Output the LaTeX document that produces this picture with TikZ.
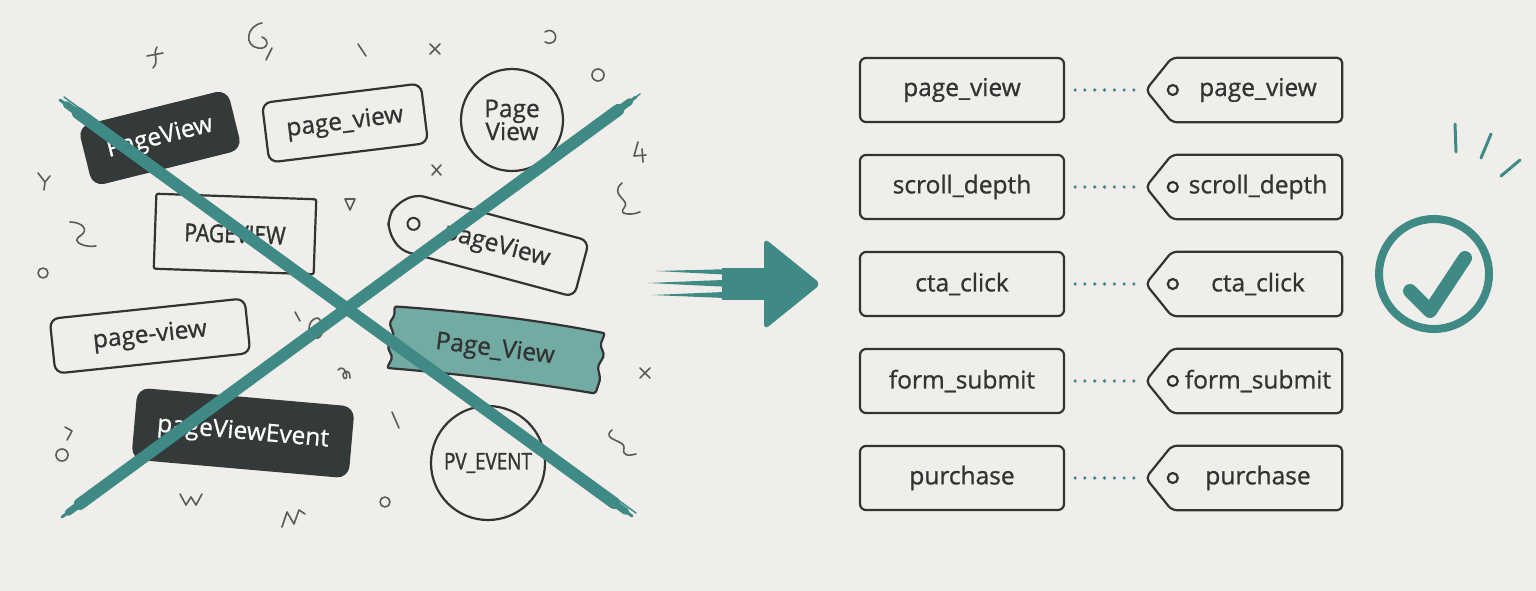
\documentclass[tikz,border=0pt]{standalone}
\usepackage{fontspec}
\setmainfont{Open Sans}[FakeBold=0.9]
\usepackage{graphicx}
\usetikzlibrary{calc}
\definecolor{bg}{HTML}{F0EEEA}
\definecolor{teal}{HTML}{3F8A84}
\definecolor{teallight}{HTML}{72AAA4}
\definecolor{dark}{HTML}{343939}
\definecolor{ink}{HTML}{333333}
\definecolor{scrib}{HTML}{5A5A5A}
\begin{document}
\begin{tikzpicture}[x=1pt,y=-1pt,
  txt/.style={font=\fontsize{24.5}{28}\selectfont},
  outbox/.style={txt, draw=ink, line width=2.2pt, rounded corners=9pt, fill=bg, text=ink, inner sep=0pt},
  darkbox/.style={txt, fill=dark, rounded corners=12pt, text=white, inner sep=0pt},
  circbox/.style={txt, circle, draw=ink, line width=2.2pt, text=ink, align=center, inner sep=0pt},
  rbox/.style={outbox, minimum width=204pt, minimum height=64pt, rounded corners=6pt},
  tagline/.style={draw=ink, line width=2.2pt, rounded corners=5pt, line join=round},
  lbl/.style={txt, text=ink, inner sep=0pt},
  dotline/.style={teal, line width=3.6pt, line cap=round, dash pattern=on 0pt off 9.8pt, shorten <=10pt, shorten >=7pt},
  scribble/.style={scrib, line width=1.6pt, line cap=round, line join=round},
  brush/.style={teal, line cap=round}
]
\fill[bg] (0,0) rectangle (1536,591);
\useasboundingbox (0,0) rectangle (1536,591);

% ---------- scribbles ----------
\draw[scribble] (147,56) -- (163,53) (157,47) .. controls (152,55) and (160,60) .. (153,68);
\draw[scribble] (262,23) .. controls (246,26) and (244,46) .. (258,48) .. controls (268,50) and (270,40) .. (262,37);
\draw[scribble] (272,48) -- (266,60);
\draw[scribble] (358,44) -- (366,56);
\draw[scribble] (430,44) -- (440,54) (440,44) -- (430,54);
\draw[scribble] (545,32) arc[start angle=130, end angle=-130, radius=6.5pt];
\draw[scribble] (598,75) circle[radius=6pt];
\draw[scribble] (432,165) -- (441,175) (441,165) -- (432,175);
\draw[scribble] (638,142) -- (634,156) -- (646,155) (642,149) -- (643,162);
\draw[scribble] (38,173) -- (45,182) -- (50,176) (45,182) -- (44,190);
\draw[scribble] (622,183) .. controls (608,195) and (632,200) .. (624,208) .. controls (618,214) and (630,216) .. (640,212);
\draw[scribble] (70,222) .. controls (82,222) and (90,230) .. (80,236) .. controls (70,242) and (86,248) .. (96,246);
\draw[scribble] (345,199) -- (355,199) -- (350,210) -- cycle;
\draw[scribble] (43,273) circle[radius=5pt];
\draw[scribble] (295,312) -- (300,321);
\draw[scribble] (318,318) .. controls (306,318) and (306,340) .. (318,338) .. controls (324,336) and (324,322) .. (318,318);
\draw[scribble] (640,368) -- (650,378) (650,368) -- (640,378);
\draw[scribble] (338,370) .. controls (345,362) and (350,382) .. (344,378) .. controls (340,372) and (350,366) .. (350,378);
\draw[scribble] (392,412) -- (399,428);
\draw[scribble] (612,430) .. controls (600,440) and (626,440) .. (624,448) .. controls (622,456) and (628,456) .. (636,454);
\draw[scribble] (62,455) circle[radius=6pt];
\draw[scribble] (65,427) -- (72,431) -- (67,440);
\draw[scribble] (180,494) -- (186,505) -- (191,497) -- (196,505) -- (202,494);
\draw[scribble] (282,527) -- (287,512) -- (294,524) -- (299,510) -- (305,514);
\draw[scribble] (385,502) circle[radius=5pt];

% ---------- messy variants ----------
\node[darkbox, rotate=14, minimum width=154pt, minimum height=62pt] (pv1) at (160,138) {PageView};
\node[outbox, rotate=7, minimum width=160pt, minimum height=60pt] (pv2) at (345,123) {page\_view};
\node[circbox, minimum size=102pt] (pv3) at (512,120) {Page\\[-5pt]View};
\node[outbox, rounded corners=2pt, rotate=-2, minimum width=160pt, minimum height=75pt] (pv4) at (235,234) {\scalebox{0.86}[1]{\addfontfeature{FakeBold=1.6}PAGEVIEW}};
\begin{scope}[shift={(485,243)}, rotate=-15]
  \draw[draw=ink, line width=2.2pt, rounded corners=9pt, fill=bg] (-80,-29) -- (100,-29) -- (100,29) -- (-80,29) -- (-96,14) -- (-100,0) -- (-96,-14) -- cycle;
  \draw[ink, line width=2pt] (-74,0) circle[radius=6pt];
  \node[lbl, transform shape] (pv5) at (12,0) {pageView};
\end{scope}
\node[outbox, rotate=6, minimum width=196pt, minimum height=55pt] (pv6) at (150,336) {page-view};
\begin{scope}[shift={(495,350)}, rotate=-7]
  \draw[draw=ink, line width=2.2pt, fill=teallight, rounded corners=2pt, line join=round]
    (-105,-31) .. controls (-30,-35) and (40,-35) .. (107,-30) -- (104,-18) -- (109,-8) -- (104,4) -- (108,16) -- (105,31)
    .. controls (40,28) and (-30,28) .. (-105,31) -- (-101,20) -- (-107,10) -- (-102,-2) -- (-108,-14) -- (-104,-22) -- cycle;
  \node[lbl, transform shape] (pv7) at (0,0) {Page\_View};
\end{scope}
\node[darkbox, rotate=-5, minimum width=218pt, minimum height=72pt] (pv8) at (243,433) {pageViewEvent};
\node[circbox, minimum size=114pt, font=\fontsize{23}{26}\selectfont] (pv9) at (488,463) {\scalebox{0.82}[1]{\addfontfeature{FakeBold=1.4}PV\_EVENT}};

% ---------- big X ----------
\foreach \ax/\ay/\bx/\by in {60/100/632/516, 636/97/62/517} {
  \draw[brush, line width=12pt, shorten <=22pt, shorten >=22pt] (\ax,\ay) -- (\bx,\by);
  \draw[brush, line width=7pt, shorten <=8pt, shorten >=8pt] (\ax,\ay) -- (\bx,\by);
  \draw[brush, line width=3pt] (\ax,\ay) -- (\bx,\by);
  \draw[brush, line width=1.5pt] ($(\ax,\ay)+(4,-3)$) -- ($(\bx,\by)+(4,-3)$);
}

% ---------- arrow ----------
\fill[teal] (722,268) rectangle (772,300);
\fill[teal] (656,271) -- (772,268) -- (772,277) -- cycle;
\fill[teal] (648,283) -- (772,278) -- (772,289) -- cycle;
\fill[teal] (652,295) -- (772,290) -- (772,300) -- cycle;
\fill[teal, rounded corners=6pt] (764,238) -- (821,284) -- (764,330) -- cycle;

% ---------- clean mapping ----------
\foreach \y/\t [count=\i] in {90/page\_view, 187/scroll\_depth, 284/cta\_click, 381/form\_submit, 478/purchase} {
  \node[rbox] (b\i) at (962,\y) {\t};
  \node[minimum width=196pt, minimum height=64pt, inner sep=0pt] (t\i) at (1244,\y) {};
  \draw[tagline] ($(t\i.north west)+(26,0)$) -- (t\i.north east) -- (t\i.south east) -- ($(t\i.south west)+(26,0)$) -- (t\i.west) -- cycle;
  \draw[ink, line width=2.2pt] ($(t\i.west)+(27,0)$) circle[radius=5pt];
  \node[lbl] (l\i) at ($(t\i.center)+(14,0)$) {\t};
  \draw[dotline] (b\i.east) -- (t\i.west);
}

% ---------- check ----------
\node[circle, draw=teal, line width=8pt, minimum size=110pt, inner sep=0pt] (ok) at (1434,274) {};
\coordinate (c1) at (1410,291);
\coordinate (c2) at (1430,311);
\coordinate (c3) at (1465,258);
\draw[teal, line width=14pt, line cap=round, line join=round] (c1) -- (c2) -- (c3);
\draw[teal, line width=3pt, line cap=round] (1455,124) -- (1456,152);
\draw[teal, line width=3pt, line cap=round] (1491,134) -- (1481,158);
\draw[teal, line width=3pt, line cap=round] (1520,160) -- (1501,176);
\end{tikzpicture}
\end{document}
